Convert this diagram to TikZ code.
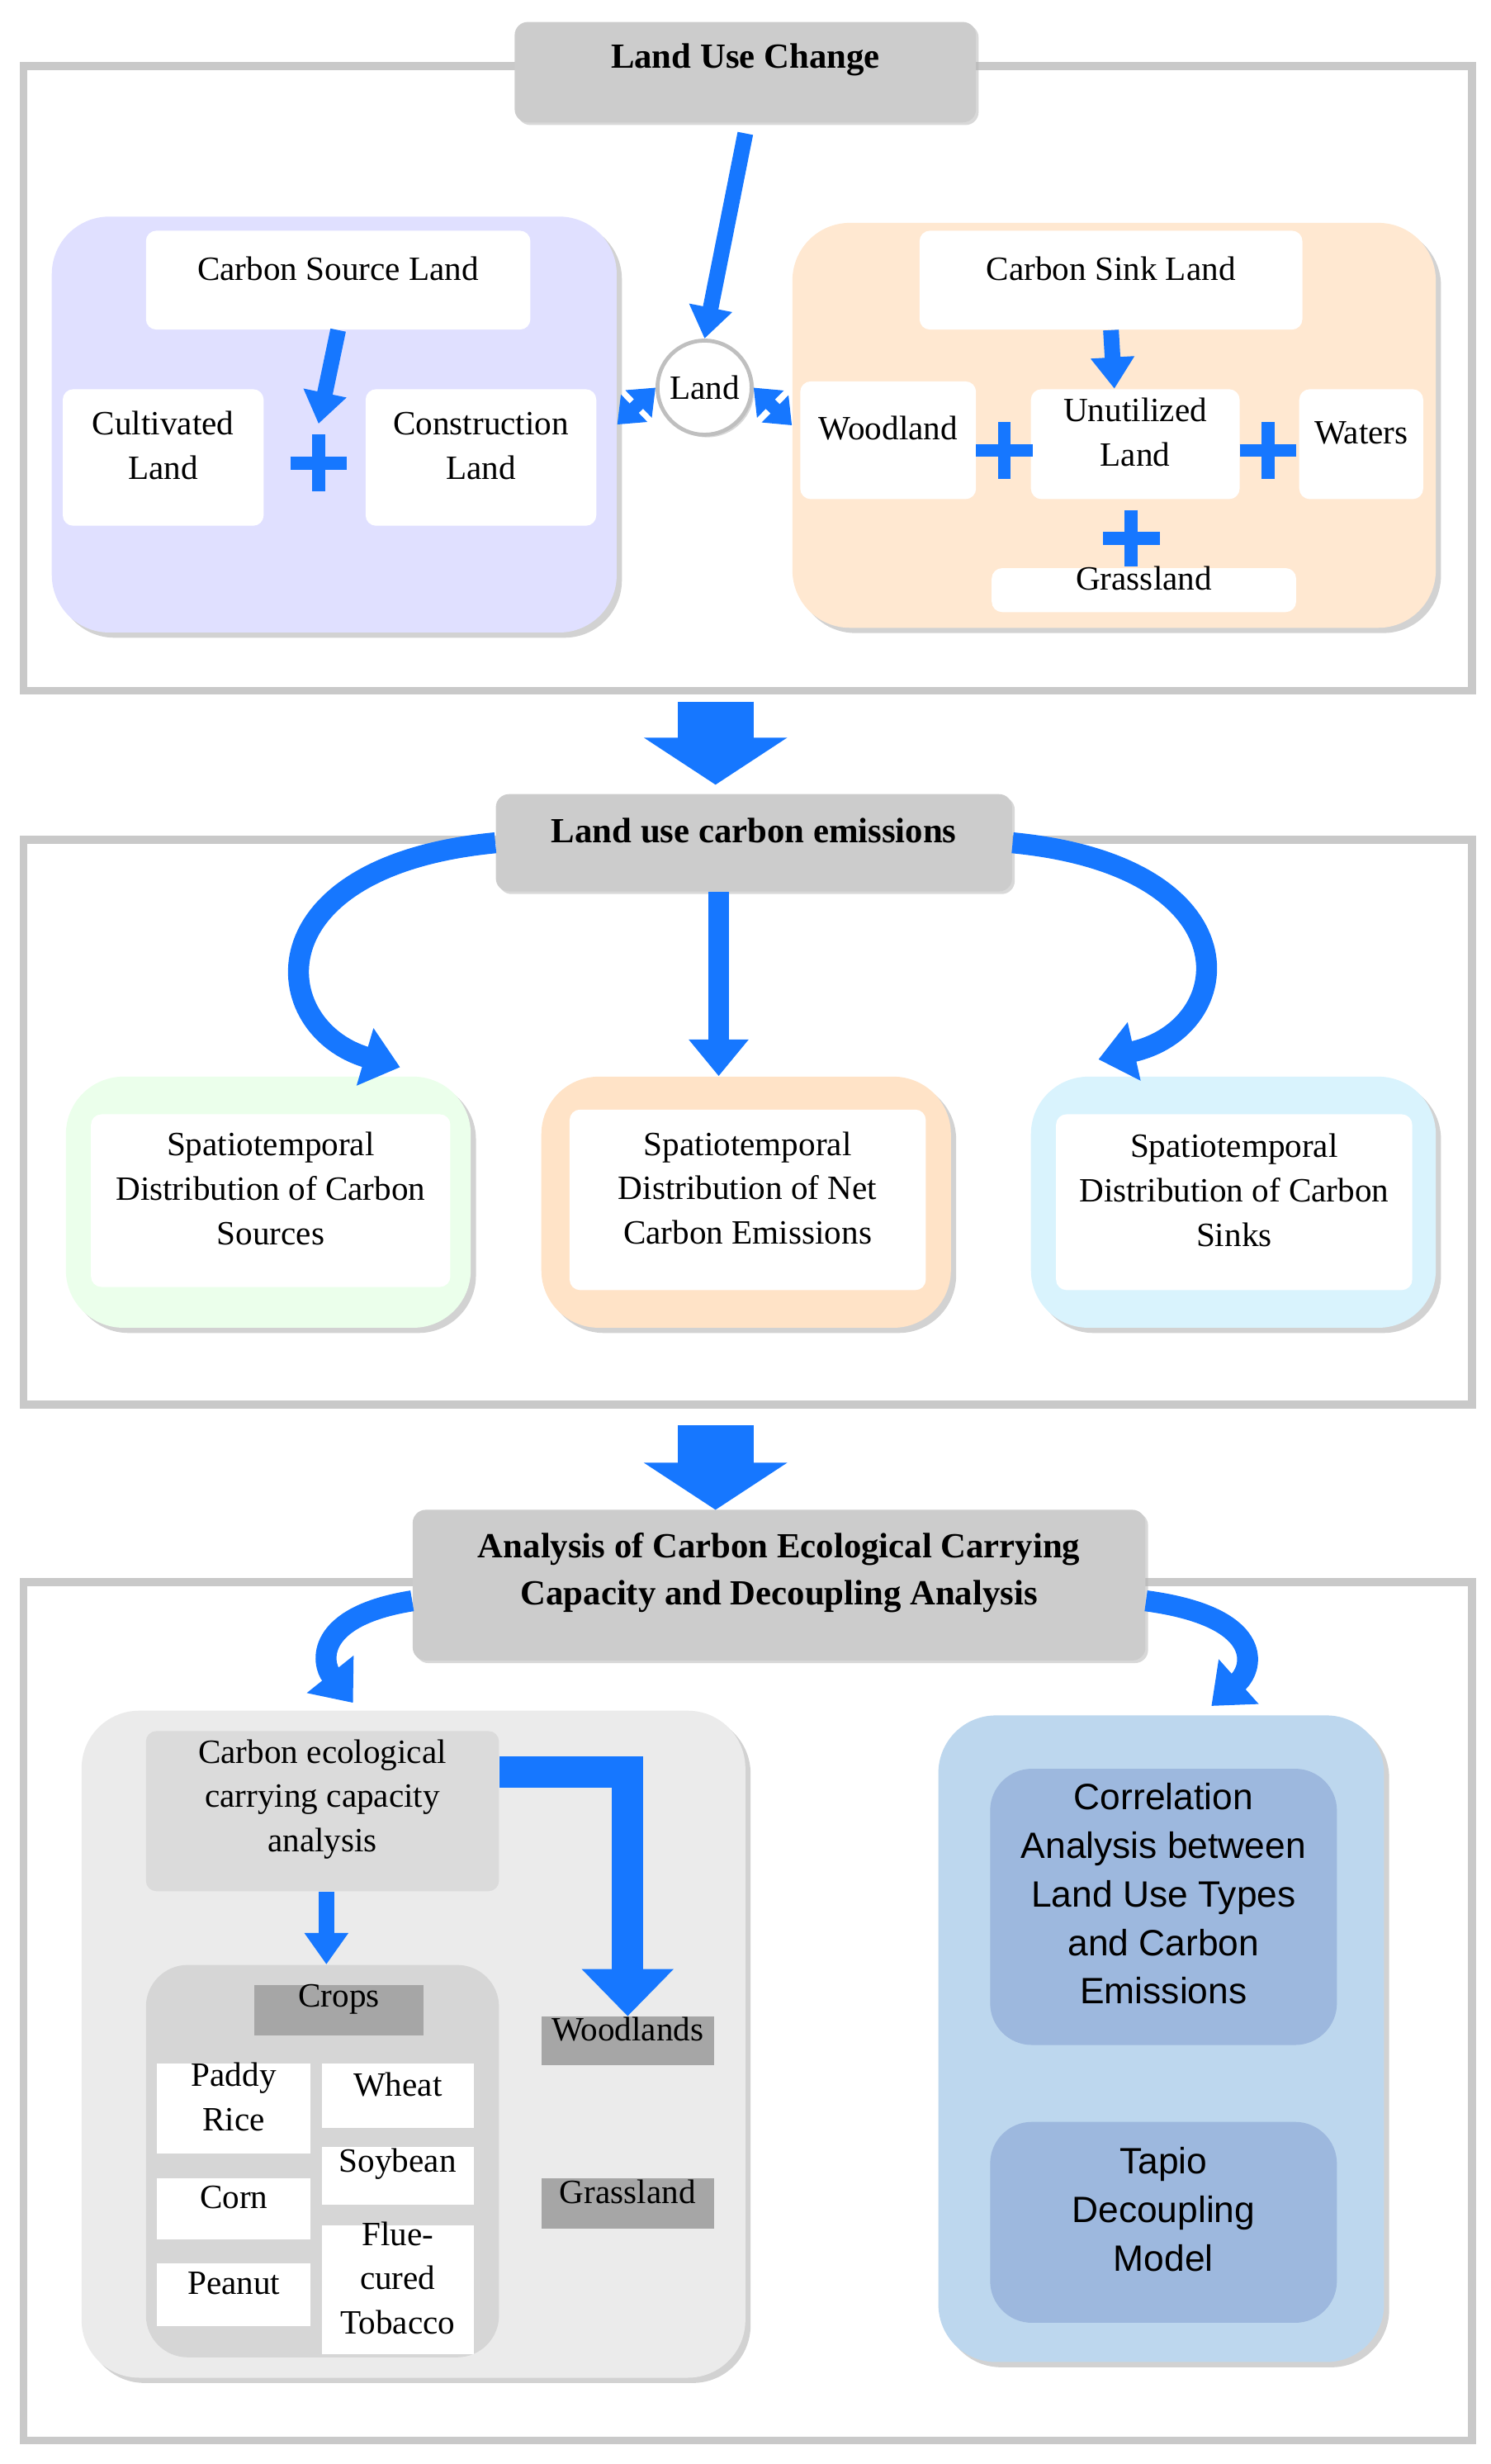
\documentclass[tikz,border=0pt]{standalone}
\usepackage{fontspec}
\setmainfont{Liberation Serif}
\setsansfont{Liberation Sans}
\usetikzlibrary{arrows.meta,fit,shadows}
\definecolor{arrblue}{HTML}{1677FF}
\definecolor{frm}{HTML}{C9C9C9}
\tikzset{
  frame/.style={draw=frm,line width=3pt},
  panel/.style={rounded corners=22pt,inner sep=0pt,drop shadow={shadow xshift=2pt,shadow yshift=-2pt,fill=black!35}},
  box/.style={fill=white,rounded corners=4pt,inner sep=0pt,align=center,font=\fontsize{13}{17}\selectfont},
  title/.style={fill=black!20,rounded corners=5pt,inner sep=0pt,align=center,font=\fontsize{13.5}{18}\selectfont\bfseries,drop shadow={shadow xshift=1pt,shadow yshift=-1pt,fill=black!30}},
  tag/.style={fill=black!35,inner sep=0pt,font=\fontsize{13}{16}\selectfont},
  arr/.style={arrblue,line width=6pt,-{Triangle[width=16pt,length=12pt]}},
  dbl/.style={arrblue,line width=5pt,{Triangle[width=14pt,length=9pt]}-{Triangle[width=14pt,length=9pt]}},
  carr/.style={arrblue,line width=8pt,-{Triangle[width=22pt,length=14pt]}},
  bigarr/.style={arrblue,line width=29pt,-{Triangle[width=54pt,length=18pt]}},
  plus/.style={arrblue,line width=5pt}
}
\begin{document}
\begin{tikzpicture}[x=0.6pt,y=-0.6pt]
\useasboundingbox (0,0) rectangle (950,1570);
% frames
\draw[frame] (15,42) rectangle (938,440);
\draw[frame] (15,535) rectangle (938,895);
\draw[frame] (15,1008) rectangle (938,1555);

% part 1
\node[title,fit={(328,14)(622,78)}] (t1) {Land Use Change};
\node[panel,fill=blue!12,fit={(33,138)(393,403)}] (src) {};
\node[panel,fill=orange!18,fit={(505,142)(915,400)}] (snk) {};
\node[box,fit={(93,147)(338,210)}] (csl) {Carbon Source Land};
\node[box,fit={(40,248)(168,335)}] (cult) {Cultivated\\Land};
\node[box,fit={(233,248)(380,335)}] (cons) {Construction\\Land};
\node[box,fit={(586,147)(830,210)}] (ksl) {Carbon Sink Land};
\node[box,fit={(510,243)(622,318)}] (wood) {Woodland};
\node[box,fit={(657,248)(790,318)}] (unut) {Unutilized\\Land};
\node[box,fit={(828,248)(907,318)}] (wat) {Waters};
\node[box,fit={(632,362)(826,390)}] (gras) {Grassland};
\node[circle,draw=black!25,line width=1.5pt,fill=white,minimum size=36pt,inner sep=0pt,
  font=\fontsize{13}{16}\selectfont,drop shadow={shadow xshift=1pt,shadow yshift=-1pt,fill=black!30}] (land) at (449,247) {Land};
\coordinate (c1) at (csl.south);
\draw[arr] (t1.south |- 0,85) -- (land.north);
\draw[arr] (csl.south) -- (203,270);
\draw[arr] (ksl.south) -- ([xshift=-8pt]unut.north);
\draw[dbl] (src.east) -- (land.west);
\draw[dbl] (land.east) -- (snk.west);
\foreach \px/\py in {203/295,640/287,808/287,721/343,743/1330,397/1352}
  \draw[plus] (\px-18,\py) -- (\px+18,\py) (\px,\py-18) -- (\px,\py+18);

% part 2
\coordinate (b1) at (456,447);
\node[title,fit={(316,506)(645,568)}] (t2) {Land use carbon emissions};
\draw[bigarr] (b1) -- (456,500);
\node[panel,fill=green!8,fit={(42,686)(300,846)}] (p1) {};
\node[panel,fill=orange!22,fit={(345,686)(606,846)}] (p2) {};
\node[panel,fill=cyan!15,fit={(657,686)(915,846)}] (p3) {};
\node[box,fit={(58,710)(287,820)}] (dsrc) {Spatiotemporal\\Distribution of Carbon\\Sources};
\node[box,fit={(363,707)(590,822)}] (dnet) {Spatiotemporal\\Distribution of Net\\Carbon Emissions};
\node[box,fit={(673,710)(900,822)}] (dsnk) {Spatiotemporal\\Distribution of Carbon\\Sinks};
\draw[carr] (t2.west) .. controls (160,552) and (170,655) .. (255,680);
\draw[arr,line width=8pt,-{Triangle[width=22pt,length=14pt]}] (t2.south -| 458,0) -- (p2.north -| 458,0);
\draw[carr] (t2.east) .. controls (800,552) and (790,655) .. (700,675);

% part 3
\coordinate (b2) at (456,908);
\node[title,fit={(263,962)(730,1058)}] (t3) {Analysis of Carbon Ecological Carrying\\Capacity and Decoupling Analysis};
\draw[bigarr] (b2) -- (456,962);
\node[panel,fill=black!8,fit={(52,1090)(475,1515)}] (lp) {};
\node[panel,fill=blue!20!cyan!12,fill={rgb,255:red,189;green,215;blue,238},fit={(598,1093)(882,1505)}] (rp) {};
\draw[carr] ([yshift=-6pt]t3.west) .. controls (200,1030) and (205,1060) .. (225,1085);
\draw[carr] ([yshift=-6pt]t3.east) .. controls (805,1030) and (800,1062) .. (772,1087);
\node[box,fill=black!14,fit={(93,1103)(318,1205)}] (ceca) {Carbon ecological\\carrying capacity\\analysis};
\node[fill=black!16,rounded corners=16pt,inner sep=0pt,fit={(93,1252)(318,1502)}] (crp) {};
\node[tag,fit={(162,1265)(270,1297)}] (crops) {Crops};
\node[box,rounded corners=0pt,fit={(100,1315)(198,1372)}] (rice) {Paddy\\Rice};
\node[box,rounded corners=0pt,fit={(205,1315)(302,1356)}] (wht) {Wheat};
\node[box,rounded corners=0pt,fit={(205,1368)(302,1405)}] (soy) {Soybean};
\node[box,rounded corners=0pt,fit={(100,1388)(198,1427)}] (corn) {Corn};
\node[box,rounded corners=0pt,fit={(100,1442)(198,1482)}] (pnt) {Peanut};
\node[box,rounded corners=0pt,fit={(205,1418)(302,1500)}] (tob) {Flue-\\cured\\Tobacco};
\node[tag,fit={(345,1285)(455,1316)}] (wds) {Woodlands};
\node[tag,fit={(345,1388)(455,1420)}] (grs) {Grassland};
\draw[arr] (ceca.south -| 208,0) -- (crp.north -| 208,0);
\draw[carr,line width=12pt,-{Triangle[width=34pt,length=18pt]}] ([yshift=15pt]ceca.east) -| (wds.north);
\node[fill={rgb,255:red,157;green,184;blue,222},rounded corners=16pt,inner sep=0pt,align=center,
  font=\fontsize{14}{18.6}\sffamily,fit={(631,1127)(852,1303)}] (corr) {Correlation\\Analysis between\\Land Use Types\\and Carbon\\Emissions};
\node[fill={rgb,255:red,157;green,184;blue,222},rounded corners=16pt,inner sep=0pt,align=center,
  font=\fontsize{14}{18.6}\sffamily,fit={(631,1352)(852,1480)}] (tapio) {Tapio\\Decoupling\\Model};
\end{tikzpicture}
\end{document}
